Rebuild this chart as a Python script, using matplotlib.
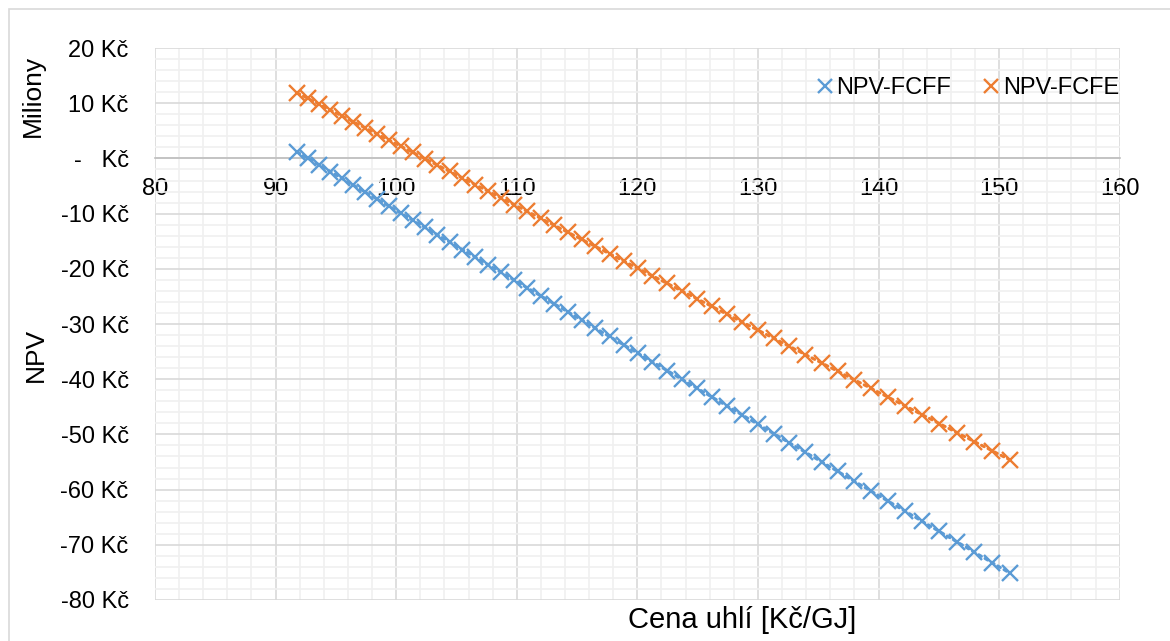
import matplotlib
matplotlib.use("Agg")
import matplotlib.pyplot as plt
from matplotlib.lines import Line2D
from matplotlib.patches import Rectangle
from matplotlib.ticker import MultipleLocator, FuncFormatter

plt.rcParams['font.family'] = ['Liberation Sans', 'DejaVu Sans']

# coal price scenarios [Kč/GJ]
cena = [91.77, 92.69, 93.62, 94.55, 95.50, 96.45, 97.42, 98.39, 99.37, 100.37,
        101.37, 102.38, 103.41, 104.44, 105.49, 106.54, 107.61, 108.68, 109.77, 110.87,
        111.98, 113.10, 114.23, 115.37, 116.52, 117.69, 118.87, 120.05, 121.25, 122.47,
        123.69, 124.93, 126.18, 127.44, 128.71, 130.00, 131.30, 132.61, 133.94, 135.28,
        136.63, 138.00, 139.38, 140.77, 142.18, 143.60, 145.04, 146.49, 147.95, 149.43,
        150.93]

# NPV in millions of Kč
npv_fcff = [1.21, 0.02, -1.18, -2.38, -3.61, -4.83, -6.09, -7.34, -8.60, -9.90,
            -11.19, -12.49, -13.82, -15.15, -16.51, -17.86, -19.24, -20.63, -22.03, -23.45,
            -24.89, -26.33, -27.79, -29.26, -30.75, -32.26, -33.78, -35.31, -36.86, -38.43,
            -40.01, -41.61, -43.22, -44.85, -46.49, -48.16, -49.84, -51.53, -53.24, -54.97,
            -56.72, -58.49, -60.27, -62.06, -63.88, -65.72, -67.58, -69.45, -71.34, -73.25,
            -75.18]
npv_fcfe = [11.90, 10.87, 9.82, 8.77, 7.70, 6.64, 5.54, 4.45, 3.35, 2.23,
            1.10, -0.04, -1.20, -2.35, -3.54, -4.72, -5.92, -7.12, -8.35, -9.59,
            -10.84, -12.10, -13.37, -14.65, -15.94, -17.26, -18.59, -19.92, -21.27, -22.64,
            -24.01, -25.41, -26.81, -28.23, -29.66, -31.11, -32.57, -34.05, -35.54, -37.05,
            -38.57, -40.11, -41.66, -43.23, -44.81, -46.41, -48.03, -49.66, -51.30, -52.97,
            -54.66]

blue = '#5B9BD5'
orange = '#ED7D31'

fig = plt.figure(figsize=(11.7, 6.41), dpi=100)
ax = fig.add_axes([0.1325, 0.064, 0.8245, 0.861])

for y, c in [(npv_fcff, blue), (npv_fcfe, orange)]:
    ax.plot(cena, y, color=c, lw=2.2, linestyle=(0, (1, 1.4)),
            dash_capstyle='round', zorder=3)
    ax.plot(cena, y, color=c, lw=0, marker='x', ms=11.5, mew=1.7, zorder=4)

ax.set_xlim(80, 160)
ax.set_ylim(-80, 20)
ax.xaxis.set_major_locator(MultipleLocator(10))
ax.xaxis.set_minor_locator(MultipleLocator(2))
ax.yaxis.set_major_locator(MultipleLocator(10))
ax.yaxis.set_minor_locator(MultipleLocator(2))


def kc(v, pos):
    if abs(v) < 1e-9:
        return '-   Kč'
    return f'{v:.0f} Kč'


ax.yaxis.set_major_formatter(FuncFormatter(kc))

ax.grid(which='major', color='#D9D9D9', lw=1.2, zorder=0)
ax.grid(which='minor', color='#F0F0F0', lw=1.2, zorder=0)
ax.set_axisbelow(True)

for s in ['top', 'right', 'left']:
    ax.spines[s].set_visible(False)
ax.spines['bottom'].set_position(('data', 0))
ax.spines['bottom'].set_color('#BFBFBF')
ax.spines['bottom'].set_linewidth(1.2)

ax.tick_params(which='both', length=0)
ax.tick_params(axis='x', labelsize=17, pad=14)
ax.tick_params(axis='y', labelsize=17, pad=19)

fig.text(0.028, 0.85, 'Miliony', rotation=90, fontsize=19, ha='center', va='center')
fig.text(0.031, 0.447, 'NPV', rotation=90, fontsize=19, ha='center', va='center')
fig.text(0.634, 0.033, 'Cena uhlí [Kč/GJ]', fontsize=21, ha='center', va='center')

handles = [Line2D([], [], color=blue, lw=0, marker='x', ms=10, mew=1.7),
           Line2D([], [], color=orange, lw=0, marker='x', ms=10, mew=1.7)]
ax.legend(handles, ['NPV-FCFF', 'NPV-FCFE'], loc='center left',
          bbox_to_anchor=(0.672, 0.928), ncol=2, frameon=False, fontsize=17,
          borderpad=0, handlelength=0.8, handletextpad=0.1, columnspacing=1.3)

fig.patches.append(Rectangle((9 / 1170, -0.1), 1.2, 1.1 - 9 / 641,
                             transform=fig.transFigure, fill=False,
                             edgecolor='#D9D9D9', lw=1.2))

fig.savefig('out.png', dpi=100)
